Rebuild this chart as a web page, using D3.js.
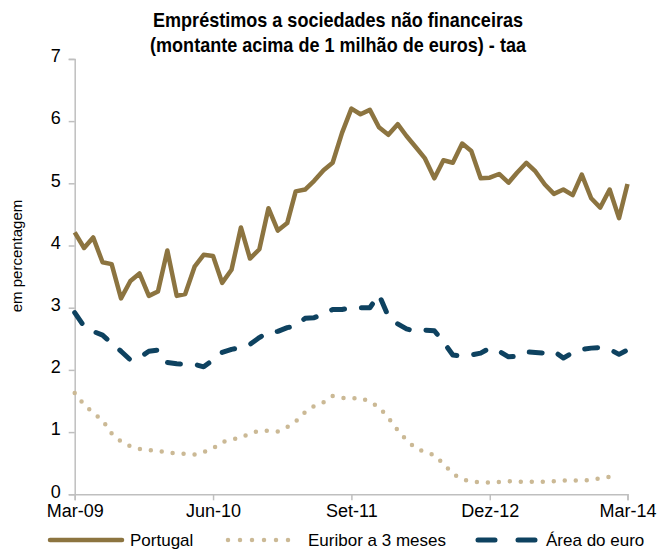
<!DOCTYPE html>
<html>
<head>
<meta charset="utf-8">
<script src="https://cdn.jsdelivr.net/npm/d3@7"></script>
<style>
  html, body { margin: 0; padding: 0; background: #fff; }
  svg { display: block; }
  text { font-family: "Liberation Sans", Arial, sans-serif; fill: #000; }
</style>
</head>
<body>
<script>
// Monthly series, Mar-09 .. Mar-14
const startMonth = new Date(2009, 2, 1);

const portugal = [
  4.21, 3.96, 4.13, 3.73, 3.70, 3.15, 3.43, 3.55, 3.19, 3.26,
  3.92, 3.19, 3.22, 3.66, 3.85, 3.83, 3.40, 3.61, 4.29, 3.79,
  3.94, 4.60, 4.24, 4.36, 4.87, 4.90, 5.04, 5.21, 5.33, 5.81,
  6.20, 6.11, 6.18, 5.90, 5.78, 5.95, 5.76, 5.58, 5.40, 5.08,
  5.37, 5.33, 5.64, 5.52, 5.08, 5.09, 5.15, 5.01, 5.17, 5.33,
  5.19, 4.98, 4.83, 4.90, 4.81, 5.14, 4.76, 4.61, 4.90, 4.44,
  4.99
];

const euribor = [
  1.63, 1.44, 1.31, 1.19, 0.98, 0.85, 0.77, 0.73, 0.71, 0.70,
  0.67, 0.66, 0.65, 0.64, 0.68, 0.74, 0.84, 0.88, 0.91, 0.98,
  1.02, 1.02, 1.01, 1.08, 1.17, 1.32, 1.42, 1.48, 1.58, 1.55,
  1.54, 1.55, 1.49, 1.40, 1.23, 1.03, 0.87, 0.74, 0.68, 0.63,
  0.49, 0.33, 0.24, 0.21, 0.19, 0.19, 0.20, 0.21, 0.20, 0.20,
  0.20, 0.20, 0.21, 0.22, 0.22, 0.22, 0.23, 0.26, 0.28, 0.28
];

const areaEuro = [
  2.92, 2.70, 2.62, 2.56, 2.43, 2.30, 2.16, 2.20, 2.30, 2.32,
  2.12, 2.10, 2.09, 2.09, 2.05, 2.16, 2.28, 2.33, 2.36, 2.41,
  2.52, 2.61, 2.62, 2.68, 2.70, 2.83, 2.84, 2.90, 2.97, 2.97,
  3.00, 3.00, 3.00, 3.21, 2.86, 2.74, 2.66, 2.62, 2.64, 2.63,
  2.45, 2.24, 2.22, 2.24, 2.27, 2.35, 2.30, 2.21, 2.22, 2.29,
  2.28, 2.27, 2.30, 2.19, 2.28, 2.33, 2.35, 2.36, 2.33, 2.25,
  2.32
];

const yTicks = [0, 1, 2, 3, 4, 5, 6, 7];
const xTickLabels = ["Mar-09", "Jun-10", "Set-11", "Dez-12", "Mar-14"];
const xTickMonths = [0, 15, 30, 45, 60];

const titleLines = [
  "Empréstimos a sociedades não financeiras",
  "(montante acima de 1 milhão de euros) - taa"
];
const yAxisTitle = "em percentagem";
const seriesNames = ["Portugal", "Euribor a 3 meses", "Área do euro"];

const colors = { portugal: "#8c7440", euribor: "#cbb995", area: "#0e4260", axis: "#bfbfbf" };

const W = 659, H = 549;
const svg = d3.select("body").append("svg").attr("width", W).attr("height", H);

const monthDate = i => d3.timeMonth.offset(startMonth, i);

const x = d3.scaleTime()
  .domain([monthDate(0), monthDate(60)])
  .range([74.7, 627.5]);
const y = d3.scaleLinear().domain([0, 7]).range([494.3, 58.9]);

// Title (condensed, slightly tall lettering)
svg.append("g").selectAll("text").data(titleLines).join("text")
  .attr("transform", (d, i) => `translate(338,${27 + i * 25}) scale(0.95,1.08)`)
  .attr("text-anchor", "middle")
  .style("font-weight", "bold").style("font-size", "19px")
  .text(d => d);

// Y axis
const yAxis = svg.append("g").attr("transform", `translate(${x.range()[0]},0)`)
  .call(d3.axisLeft(y).tickValues(yTicks).tickFormat(d3.format("d")).tickSize(6).tickPadding(8));
yAxis.select(".domain").attr("stroke", colors.axis).attr("stroke-width", 1.5);
yAxis.selectAll(".tick line").attr("stroke", colors.axis).attr("stroke-width", 1.5);
yAxis.selectAll(".tick text").style("font-size", "18px").style("font-family", null)
  .attr("fill", "#000").attr("dy", "0.15em");

// X axis
const xAxis = svg.append("g").attr("transform", `translate(0,${y(0)})`)
  .call(d3.axisBottom(x)
    .tickValues(xTickMonths.map(monthDate))
    .tickFormat((d, i) => xTickLabels[i])
    .tickSize(6).tickPadding(4));
xAxis.select(".domain").attr("stroke", colors.axis).attr("stroke-width", 1.5);
xAxis.selectAll(".tick line").attr("stroke", colors.axis).attr("stroke-width", 1.5);
xAxis.selectAll(".tick text").style("font-size", "18px").style("font-family", null).attr("fill", "#000");

// Y axis title
svg.append("text")
  .attr("transform", "translate(22,256) rotate(-90)")
  .attr("text-anchor", "middle")
  .style("font-size", "15px")
  .text(yAxisTitle);

const line = d3.line().x((d, i) => x(monthDate(i))).y(d => y(d));

svg.append("path").datum(euribor)
  .attr("fill", "none").attr("stroke", colors.euribor)
  .attr("stroke-width", 4.5).attr("stroke-linecap", "round")
  .attr("stroke-dasharray", "0,11")
  .attr("d", line);

svg.append("path").datum(areaEuro)
  .attr("fill", "none").attr("stroke", colors.area)
  .attr("stroke-width", 5).attr("stroke-linecap", "round").attr("stroke-linejoin", "round")
  .attr("stroke-dasharray", "13,17")
  .attr("d", line);

svg.append("path").datum(portugal)
  .attr("fill", "none").attr("stroke", colors.portugal)
  .attr("stroke-width", 4.5).attr("stroke-linejoin", "round")
  .attr("d", line);

// Legend
const legendY = 540;
const legend = [
  { name: seriesNames[0], x0: 50, x1: 122, color: colors.portugal, dash: null, w: 4.5 },
  { name: seriesNames[1], x0: 228, x1: 300, color: colors.euribor, dash: "0,12", w: 4.5 },
  { name: seriesNames[2], x0: 478, x1: 538, color: colors.area, dash: "17,23", w: 5 }
];
const lg = svg.append("g").selectAll("g").data(legend).join("g");
lg.append("line")
  .attr("x1", d => d.x0).attr("x2", d => d.x1)
  .attr("y1", legendY).attr("y2", legendY)
  .attr("stroke", d => d.color).attr("stroke-width", d => d.w)
  .attr("stroke-linecap", "round")
  .attr("stroke-dasharray", d => d.dash);
lg.append("text")
  .attr("x", d => d.x1 + 8).attr("y", legendY + 5.5)
  .style("font-size", "17px")
  .text(d => d.name);
</script>
</body>
</html>
